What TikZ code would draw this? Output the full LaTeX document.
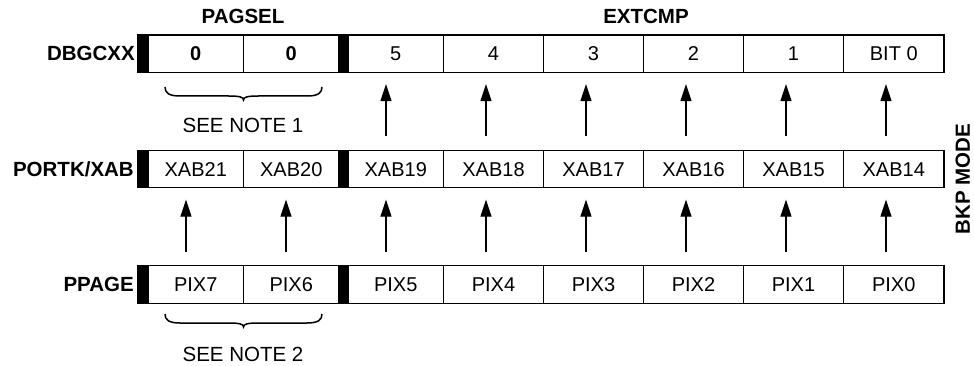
\documentclass[tikz,border=0pt]{standalone}
\usepackage{fontspec}
\setmainfont{Liberation Sans}
\usetikzlibrary{arrows.meta,calc}
\newcommand\hbrc[3]{%
  \pgfmathsetmacro\xm{(#1+#2)/2}%
  \draw[brl] (#1,#3) .. controls (#1,{#3+6}) and ({#1+4},{#3+9}) .. ({#1+15},{#3+9})
    -- ({\xm-15},{#3+9}) .. controls ({\xm-4},{#3+9}) and (\xm,{#3+10}) .. (\xm,{#3+13})
    .. controls (\xm,{#3+10}) and ({\xm+4},{#3+9}) .. ({\xm+15},{#3+9})
    -- ({#2-15},{#3+9}) .. controls ({#2-4},{#3+9}) and (#2,{#3+6}) .. (#2,#3);}
\begin{document}
\begin{tikzpicture}[x=1pt,y=-1pt,
  cell/.style={draw, line width=1.2pt, inner sep=0pt, minimum height=37.5pt,
    font=\fontsize{20}{24}\selectfont, text height=14.3pt, text depth=0pt},
  barbox/.style={fill=black, draw=black, line width=1.2pt, inner sep=0pt,
    minimum width=10pt, minimum height=37.5pt},
  lab/.style={font=\fontsize{20.5}{24}\selectfont\bfseries, inner sep=0pt,
    text height=14.5pt, text depth=0pt},
  note/.style={font=\fontsize{20.5}{24}\selectfont, inner sep=0pt,
    text height=14.5pt, text depth=0pt},
  arr/.style={line width=1.2pt, -{Triangle[length=17pt,width=11pt]}},
  brl/.style={line width=1.5pt}]
\useasboundingbox (0,0) rectangle (974,366);
% rows
\def\rowcells#1#2#3{%
  \foreach \i/\l/\r/\t in {#3} {%
    \pgfmathsetmacro\w{\r-\l}%
    \pgfmathsetmacro\c{(\l+\r)/2}%
    \node[cell, minimum width=\w pt] (#1\i) at (\c,#2) {\t};
  }%
  \node[barbox] (#1b0) at (143,#2) {};
  \node[barbox] (#1b1) at (343.5,#2) {};
}
\rowcells{d}{53.75}{0/148/243.5/\textbf{0}, 1/243.5/339/\textbf{0}, 2/348/443.5/5, 3/443.5/543.5/4, 4/543.5/643.5/3, 5/643.5/743.5/2, 6/743.5/843.5/1, 7/843.5/944/BIT 0}
\rowcells{x}{169.1}{0/148/243.5/XAB21, 1/243.5/339/XAB20, 2/348/443.5/XAB19, 3/443.5/543.5/XAB18, 4/543.5/643.5/XAB17, 5/643.5/743.5/XAB16, 6/743.5/843.5/XAB15, 7/843.5/944/XAB14}
\rowcells{p}{284.5}{0/148/243.5/PIX7, 1/243.5/339/PIX6, 2/348/443.5/PIX5, 3/443.5/543.5/PIX4, 4/543.5/643.5/PIX3, 5/643.5/743.5/PIX2, 6/743.5/843.5/PIX1, 7/843.5/944/PIX0}
% row labels
\node[lab, anchor=east] (ld) at (135,53.75) {DBGCXX};
\node[lab, anchor=east] (lx) at (134,169.1) {PORTK/XAB};
\node[lab, anchor=east] (lp) at (134,284.5) {PPAGE};
% titles
\node[lab] (tpag) at (243,16) {PAGSEL};
\node[lab] (text) at (646,16) {EXTCMP};
\node[lab, rotate=90] (bkp) at (962.5,179) {BKP MODE};
% arrows
\foreach \k in {0,...,7} {
  \coordinate (a\k) at ({186+100*\k},0);
  \draw[arr] ($(a\k |- p\k.north)+(0,-12.7)$) -- ($(a\k |- x\k.south)+(0,11.2)$);
}
\foreach \k in {2,...,7} {
  \draw[arr] ($(a\k |- x\k.north)+(0,-13.5)$) -- ($(a\k |- d\k.south)+(0,11)$);
}
% braces
\hbrc{165}{322}{87}
\hbrc{165}{322}{314}
\node[note] (n1) at (243,125) {SEE NOTE 1};
\node[note] (n2) at (243,354) {SEE NOTE 2};
\end{tikzpicture}
\end{document}
